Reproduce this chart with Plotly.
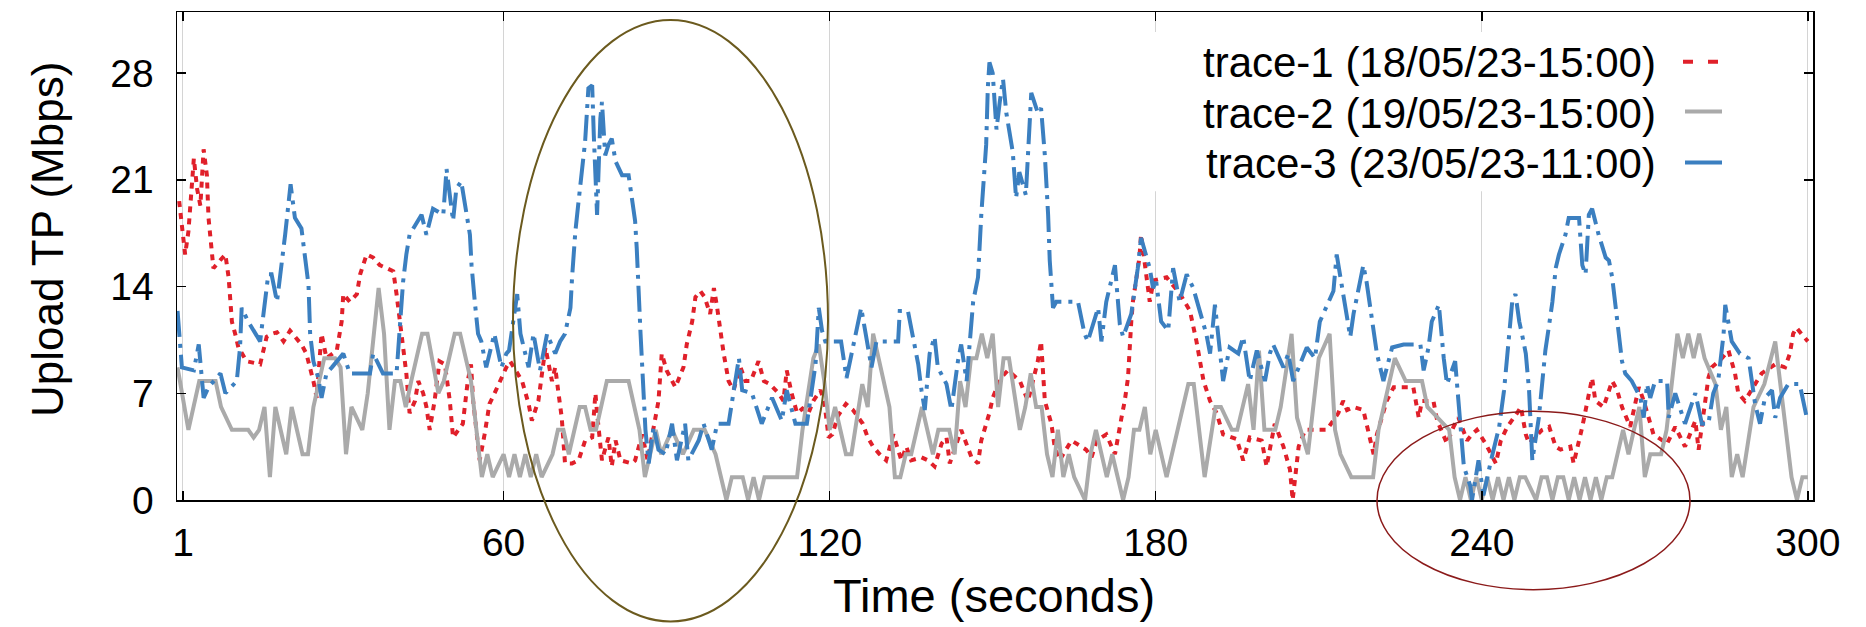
import plotly.graph_objects as go

# ---------------- data ----------------
x_tick_vals = [1, 60, 120, 180, 240, 300]
y_tick_vals = [0, 7, 14, 21, 28]

x_title = "Time (seconds)"
y_title = "Upload TP (Mbps)"
trace1_name = "trace-1 (18/05/23-15:00)"
trace2_name = "trace-2 (19/05/23-15:00)"
trace3_name = "trace-3 (23/05/23-11:00)"

# trace-1 (red, dotted): (time s, Mbps)
trace1_points = [
    (0.3, 19.6), (1.4, 16.1), (2.0, 17.6), (2.3, 19.1), (3.0, 22.4), (3.6, 20.4), (4.2, 19.3), (4.8, 23.0),
    (5.4, 21.3), (5.7, 18.5), (6.2, 16.5), (6.6, 15.2), (7.8, 15.7), (8.8, 16.1), (9.4, 14.6), (10.0, 11.7),
    (10.6, 10.9), (11.2, 10.0), (12.7, 9.1), (15.2, 8.9), (16.4, 10.7), (17.4, 10.9), (18.3, 11.0), (19.5, 10.4),
    (20.7, 11.1), (22.8, 10.2), (23.7, 9.6), (24.4, 8.7), (25.0, 7.8), (25.6, 6.7), (26.5, 10.9), (27.4, 9.3),
    (29.3, 9.8), (30.2, 11.7), (30.5, 13.5), (31.7, 13.0), (33.0, 13.5), (33.6, 14.8), (34.8, 16.1), (36.0, 15.9),
    (37.2, 15.4), (38.5, 15.2), (39.7, 15.0), (40.3, 13.5), (40.9, 11.7), (41.5, 10.2), (42.1, 8.3), (42.7, 5.7),
    (43.7, 6.5), (44.3, 7.8), (45.2, 7.0), (45.8, 6.1), (46.4, 4.6), (47.3, 6.5), (48.2, 9.1), (49.2, 8.9),
    (50.1, 6.5), (50.7, 4.1), (52.5, 5.0), (53.4, 7.8), (54.0, 8.9), (54.4, 6.5), (55.0, 4.3), (55.6, 2.6),
    (56.5, 4.3), (57.4, 6.3), (58.6, 7.2), (59.6, 8.0), (60.5, 8.7), (61.2, 9.1), (63.4, 7.8), (64.6, 6.3),
    (65.2, 5.2), (66.4, 6.5), (67.7, 10.0), (68.9, 7.8), (69.5, 8.7), (70.1, 7.0), (70.7, 5.4), (71.3, 2.4),
    (72.6, 2.4), (73.8, 2.6), (75.0, 3.9), (76.3, 4.1), (76.9, 7.0), (77.2, 5.7), (78.1, 2.6), (79.3, 4.1),
    (79.9, 2.2), (80.6, 3.9), (81.5, 2.6), (83.6, 2.4), (84.2, 2.6), (85.5, 4.3), (86.5, 2.6), (88.5, 6.5),
    (89.1, 9.6), (90.0, 8.5), (91.6, 7.4), (93.1, 8.7), (93.7, 10.2), (94.7, 11.7), (95.3, 13.3), (96.2, 13.7),
    (97.0, 13.3), (98.0, 12.2), (98.7, 13.9), (99.3, 12.6), (99.9, 10.9), (100.5, 9.6), (101.4, 7.8), (102.3, 7.2),
    (103.6, 8.7), (104.5, 7.8), (105.5, 7.8), (106.9, 9.1), (107.9, 7.8), (109.0, 7.6), (110.6, 7.0), (111.5, 6.5),
    (112.1, 8.5), (113.0, 7.0), (114.0, 5.7), (115.0, 6.0), (116.1, 5.7), (117.0, 6.5), (118.3, 7.2), (119.0, 6.5),
    (119.8, 4.1), (120.5, 4.3), (121.5, 5.5), (123.0, 6.3), (124.3, 5.9), (126.1, 5.0), (127.0, 4.1), (128.0, 3.5),
    (129.2, 3.0), (130.4, 2.6), (131.7, 4.3), (133.2, 2.6), (134.1, 3.5), (135.0, 2.6), (136.9, 2.8), (138.1, 2.6),
    (139.3, 2.2), (140.6, 3.7), (141.5, 4.1), (142.1, 2.4), (144.2, 4.6), (146.1, 2.8), (147.3, 2.4), (147.9, 3.9),
    (149.4, 5.7), (150.0, 6.7), (151.5, 8.0), (152.8, 8.5), (155.0, 7.8), (156.5, 6.5), (158.3, 9.1), (158.9, 10.4),
    (159.6, 6.5), (160.8, 5.0), (161.4, 3.5), (162.3, 2.6), (164.5, 3.9), (166.3, 3.5), (167.2, 3.3), (168.2, 2.8),
    (169.1, 3.9), (170.9, 4.3), (172.5, 3.0), (173.7, 5.4), (174.3, 6.5), (174.9, 8.0), (175.2, 10.2), (175.5, 11.7),
    (175.8, 13.0), (176.4, 14.6), (177.0, 15.9), (177.3, 17.4), (178.3, 14.6), (178.9, 13.0), (179.6, 14.4),
    (182.0, 14.6), (184.5, 13.5), (186.3, 12.4), (187.5, 10.4), (188.8, 7.8), (190.0, 6.5), (191.2, 5.7),
    (192.4, 4.3), (194.9, 4.0), (196.1, 2.6), (197.3, 4.1), (199.5, 3.9), (200.4, 2.2), (201.9, 5.0), (203.5, 3.5),
    (204.7, 2.0), (205.2, 0.0), (206.3, 3.5), (207.5, 4.6), (209.0, 4.6), (211.5, 4.6), (213.6, 5.7), (214.5, 6.5),
    (215.2, 5.9), (216.4, 6.1), (218.2, 5.9), (220.1, 3.0), (220.7, 4.3), (222.5, 6.5), (223.8, 7.4), (225.0, 7.4),
    (227.4, 7.4), (228.4, 5.4), (229.0, 6.5), (231.1, 6.5), (231.8, 5.2), (233.6, 3.7), (234.8, 4.8), (235.7, 5.4),
    (237.3, 3.9), (238.2, 4.3), (239.1, 4.6), (240.7, 3.7), (242.6, 2.4), (243.5, 3.9), (244.7, 4.8), (246.5, 5.7),
    (247.2, 6.1), (248.1, 4.3), (248.7, 3.7), (251.1, 4.6), (252.4, 4.8), (253.6, 3.5), (254.5, 3.3), (256.3, 3.5),
    (256.9, 2.4), (258.5, 4.8), (259.1, 5.9), (259.7, 7.2), (260.3, 8.0), (260.9, 6.5), (262.4, 6.1), (264.0, 7.8),
    (264.9, 7.2), (265.8, 6.1), (266.7, 5.4), (267.3, 4.8), (268.9, 7.4), (269.8, 6.5), (271.6, 4.3), (274.1, 3.7),
    (275.6, 4.8), (277.4, 3.5), (278.3, 4.3), (279.3, 5.2), (279.9, 3.3), (281.7, 8.0), (282.3, 8.7), (284.2, 9.3),
    (285.4, 9.8), (286.6, 8.3), (287.2, 7.0), (288.4, 6.5), (291.5, 8.3), (294.0, 8.9), (295.8, 8.7), (296.7, 9.6),
    (297.3, 10.9), (297.9, 11.3), (298.8, 10.9), (300.0, 10.4),
]

# trace-2 (grey, solid): (time s, Mbps)
trace2_points = [
    (0, 8.7), (2, 4.6), (4, 7.8), (7, 7.8), (8, 6.1), (10, 4.6), (13, 4.6), (14, 4.1), (15, 4.6), (16, 6.1),
    (17, 1.5), (18, 6.1), (20, 3.0), (21, 6.1), (23, 3.0), (24, 3.0), (25, 6.1), (27, 9.3), (29, 9.3), (30, 8.7),
    (31, 3.0), (32, 6.1), (34, 4.6), (35, 7.0), (37, 13.9), (38, 10.9), (39, 4.6), (40, 7.8), (41, 7.8), (42, 6.1),
    (43, 7.8), (45, 10.9), (46, 10.9), (48, 7.0), (49, 7.8), (51, 10.9), (52, 10.9), (54, 7.8), (55, 4.6), (56, 1.5),
    (57, 3.0), (58, 1.5), (60, 3.0), (61, 1.5), (62, 3.0), (63, 1.5), (64, 3.0), (65, 1.5), (66, 3.0), (67, 1.5),
    (69, 3.0), (70, 4.6), (71, 4.6), (72, 3.0), (74, 6.1), (75, 6.1), (76, 4.6), (77, 4.6), (79, 7.8), (83, 7.8),
    (85, 4.6), (86, 1.5), (88, 4.6), (89, 3.0), (91, 4.6), (93, 3.0), (95, 4.6), (97, 4.6), (99, 3.0), (100, 1.5),
    (101, 0.0), (102, 1.5), (104, 1.5), (105, 0.0), (106, 1.5), (107, 0.0), (108, 1.5), (114, 1.5), (115, 4.6),
    (117, 9.3), (118, 10.2), (119, 7.8), (120, 4.6), (121, 6.1), (123, 3.0), (124, 3.0), (126, 7.6), (127, 6.1),
    (128, 10.9), (129, 9.3), (131, 6.1), (132, 1.5), (133, 1.5), (134, 3.0), (135, 3.0), (137, 6.1), (139, 3.0),
    (140, 4.6), (142, 4.6), (143, 3.0), (144, 7.8), (145, 6.1), (146, 9.3), (147, 9.3), (148, 10.9), (149, 9.3),
    (150, 10.9), (151, 6.1), (152, 9.3), (153, 9.3), (155, 4.6), (156, 6.1), (157, 8.3), (158, 6.1), (159, 6.1),
    (160, 3.0), (161, 1.5), (162, 4.6), (163, 1.5), (164, 3.0), (165, 1.5), (167, 0.0), (168, 3.0), (169, 4.6),
    (170, 3.0), (171, 1.5), (172, 3.0), (174, 0.0), (175, 1.5), (176, 4.6), (177, 4.6), (178, 6.1), (179, 3.0),
    (180, 4.6), (182, 1.5), (184, 4.6), (186, 7.6), (187, 7.6), (188, 4.6), (189, 1.5), (191, 6.1), (192, 6.1),
    (194, 4.6), (195, 4.6), (197, 7.6), (198, 4.6), (199, 9.8), (200, 4.6), (202, 4.6), (203, 6.1), (205, 10.9),
    (206, 5.4), (208, 3.0), (210, 9.3), (212, 10.9), (213, 4.6), (214, 3.0), (216, 1.5), (220, 1.5), (221, 4.6),
    (224, 9.3), (226, 7.8), (229, 7.8), (230, 6.1), (234, 4.6), (235, 1.5), (236, 0.0), (237, 1.5), (238, 0.0),
    (239, 1.5), (240, 0.0), (241, 1.5), (242, 0.0), (243, 1.5), (244, 0.0), (245, 1.5), (246, 0.0), (247, 1.5),
    (248, 1.5), (250, 0.0), (251, 1.5), (252, 1.5), (253, 0.0), (254, 1.5), (255, 1.5), (256, 0.0), (257, 1.5),
    (258, 0.0), (259, 1.5), (260, 0.0), (261, 1.5), (262, 0.0), (263, 1.5), (264, 1.5), (266, 4.6), (267, 3.0),
    (268, 4.6), (269, 6.1), (270, 1.5), (271, 3.0), (273, 3.0), (274, 4.6), (276, 10.9), (277, 9.3), (278, 10.9),
    (279, 9.3), (280, 10.9), (281, 9.3), (283, 7.6), (284, 4.6), (285, 6.1), (286, 1.5), (287, 3.0), (288, 1.5),
    (290, 6.1), (292, 7.6), (294, 10.4), (295, 7.6), (296, 4.6), (297, 1.5), (298, 0.0), (299, 1.5), (300, 1.5),
]

# trace-3 (blue, dash-dot): (time s, Mbps)
trace3_points = [
    (0.0, 12.4), (0.8, 8.7), (3.0, 8.5), (3.9, 10.2), (4.8, 6.7), (5.7, 7.4), (7.9, 8.3), (8.8, 7.0), (10.9, 7.8),
    (11.5, 10.0), (11.8, 12.6), (13.0, 11.7), (15.2, 10.4), (15.8, 12.2), (16.7, 14.8), (17.3, 14.8), (18.3, 13.0),
    (19.8, 17.4), (20.4, 19.1), (20.8, 20.7), (21.6, 18.5), (22.8, 17.8), (24.1, 14.1), (24.4, 10.9), (25.0, 9.1),
    (25.9, 8.0), (26.5, 6.7), (27.4, 8.3), (28.4, 8.7), (30.5, 9.6), (31.7, 8.3), (35.4, 8.3), (36.0, 9.6),
    (37.8, 8.3), (40.3, 8.3), (41.5, 14.3), (42.1, 16.1), (42.7, 17.4), (44.9, 18.7), (45.8, 17.4), (47.0, 19.1),
    (48.9, 18.7), (49.5, 21.7), (50.7, 18.3), (51.3, 20.4), (52.2, 20.9), (53.8, 17.4), (54.1, 15.4), (54.7, 13.0),
    (55.3, 10.9), (55.9, 10.4), (56.8, 8.7), (58.3, 10.9), (59.6, 8.7), (60.5, 9.6), (61.0, 9.8), (62.5, 13.5),
    (63.1, 10.9), (64.6, 8.7), (65.5, 10.9), (66.7, 8.5), (68.0, 10.9), (69.5, 9.6), (70.4, 10.4), (71.3, 10.9),
    (72.3, 12.6), (72.6, 14.6), (73.2, 17.6), (73.8, 19.6), (74.4, 21.3), (75.0, 23.5), (75.6, 27.0), (76.3, 27.2),
    (76.6, 23.9), (76.9, 20.7), (77.2, 18.7), (77.8, 25.0), (78.1, 26.1), (78.7, 22.6), (79.3, 23.3), (79.9, 23.7),
    (80.6, 22.2), (81.8, 21.3), (83.0, 21.3), (84.2, 18.3), (84.5, 16.5), (85.2, 10.9), (85.5, 9.1), (85.8, 6.5),
    (86.1, 4.6), (86.7, 2.4), (87.6, 4.8), (88.5, 3.3), (89.8, 3.0), (91.0, 5.0), (91.9, 2.6), (93.4, 5.0),
    (94.0, 2.6), (95.9, 3.9), (96.8, 5.0), (98.3, 3.3), (99.3, 5.0), (101.4, 5.0), (102.6, 7.8), (103.3, 9.3),
    (103.9, 7.2), (105.7, 7.0), (107.5, 5.0), (109.4, 6.7), (111.2, 5.2), (112.1, 7.2), (113.7, 5.0), (115.8, 5.0),
    (117.4, 8.9), (118.0, 12.6), (118.6, 11.1), (119.2, 10.4), (120.1, 10.4), (122.1, 10.4), (123.1, 8.0),
    (125.2, 11.5), (125.8, 12.6), (127.7, 8.7), (128.6, 10.4), (132.6, 10.4), (132.9, 12.4), (134.4, 12.4),
    (136.3, 8.9), (136.9, 7.2), (137.5, 5.9), (138.4, 9.6), (139.3, 10.7), (139.9, 8.7), (141.5, 7.6), (142.4, 5.9),
    (143.6, 9.1), (144.2, 10.2), (145.2, 7.8), (146.4, 13.0), (147.3, 14.6), (147.9, 18.7), (148.5, 21.3),
    (148.8, 23.3), (149.1, 27.0), (149.4, 28.7), (150.0, 28.0), (150.7, 24.3), (151.3, 26.1), (151.9, 27.6),
    (152.5, 25.4), (153.1, 23.9), (153.7, 22.8), (154.3, 19.8), (154.9, 21.5), (156.1, 20.0), (156.8, 24.8),
    (157.1, 26.7), (158.3, 25.4), (158.9, 25.7), (159.6, 22.6), (159.9, 20.9), (160.2, 18.7), (160.5, 15.7),
    (161.1, 12.6), (161.7, 13.0), (165.7, 13.0), (166.9, 10.9), (167.5, 10.4), (169.4, 12.6), (170.0, 10.4),
    (170.9, 13.0), (171.5, 13.9), (172.5, 15.4), (173.4, 11.5), (174.0, 10.7), (175.5, 12.2), (176.7, 15.2),
    (177.3, 17.2), (178.9, 15.2), (179.5, 13.9), (180.1, 14.3), (181.0, 11.7), (182.3, 11.1), (183.2, 15.2),
    (184.4, 13.0), (185.7, 14.8), (186.9, 13.9), (189.3, 10.9), (190.0, 9.6), (190.9, 12.8), (191.8, 9.6),
    (192.4, 7.8), (193.6, 10.0), (195.2, 9.6), (196.1, 10.7), (197.3, 7.8), (198.6, 9.8), (200.1, 7.8), (201.0, 9.6),
    (201.6, 10.2), (203.5, 8.7), (204.4, 9.6), (205.3, 7.8), (207.8, 10.0), (209.3, 9.3), (210.2, 11.7),
    (212.7, 13.7), (213.3, 16.1), (214.5, 13.5), (215.8, 10.7), (216.4, 12.2), (217.3, 13.9), (218.2, 15.4),
    (218.8, 14.3), (219.5, 12.4), (220.7, 9.6), (221.9, 7.8), (223.5, 10.0), (225.6, 10.2), (228.7, 10.2),
    (229.3, 8.5), (230.2, 10.0), (230.8, 11.7), (232.1, 12.8), (233.0, 9.3), (233.6, 7.6), (235.1, 9.1), (236.1, 5.0),
    (236.7, 2.2), (237.9, 0.9), (238.2, 0.0), (239.4, 2.6), (240.3, 0.3), (241.7, 2.6), (242.6, 4.1), (243.2, 4.8),
    (244.1, 7.2), (244.7, 9.8), (245.0, 11.1), (245.6, 13.0), (246.2, 13.5), (246.9, 11.7), (247.5, 10.7),
    (248.1, 9.6), (248.7, 7.2), (249.3, 2.6), (250.5, 5.4), (251.1, 7.8), (251.7, 9.8), (252.4, 11.5), (253.0, 13.0),
    (253.6, 15.2), (254.2, 16.1), (255.4, 17.4), (256.0, 18.5), (257.9, 18.5), (258.5, 15.4), (259.1, 14.8),
    (259.7, 18.7), (260.3, 19.1), (261.5, 17.4), (262.8, 15.9), (263.4, 15.7), (264.0, 14.6), (264.6, 12.6),
    (265.2, 10.9), (265.8, 9.1), (266.4, 8.3), (267.6, 7.8), (269.2, 6.7), (269.8, 5.4), (270.4, 7.6), (271.0, 6.7),
    (271.9, 7.8), (274.1, 7.8), (274.4, 5.4), (275.6, 7.0), (277.4, 5.0), (279.3, 7.0), (280.5, 5.0), (281.7, 5.0),
    (282.6, 7.0), (283.5, 7.8), (284.5, 10.9), (284.8, 12.8), (286.0, 10.4), (287.5, 9.6), (289.1, 9.3),
    (290.3, 6.3), (291.2, 5.0), (292.1, 6.7), (293.4, 7.2), (294.0, 5.4), (294.9, 6.7), (296.4, 7.6), (298.5, 7.6),
    (299.1, 6.5), (299.8, 5.4),
]

# ---------------- styling / layout ----------------
RED = "#e0202a"
GREY = "#aaaaaa"
BLUE = "#3b7fc0"
FONT = "Liberation Sans, Arial, Helvetica, sans-serif"

W, H = 1866, 627
L, R, T, B = 177, 53, 10, 127
PW, PH = W - L - R, H - T - B


def px(x):
    return (x - L) / PW


def py(y):
    return (H - B - y) / PH


fig = go.Figure()
series = [
    (trace1_points, trace1_name, RED, "6px,6px"),
    (trace2_points, trace2_name, GREY, "solid"),
    (trace3_points, trace3_name, BLUE, "26px,7px,4px,7px"),
]
for pts, name, col, dash in series:
    fig.add_trace(go.Scatter(
        x=[p[0] for p in pts], y=[p[1] for p in pts], mode="lines", name=name,
        line=dict(color=col, width=4, dash=dash), showlegend=False,
    ))

shapes = [
    # opaque key box (gnuplot style)
    dict(type="rect", xref="paper", yref="paper", x0=px(1150), x1=px(1742), y0=py(190), y1=py(30),
         fillcolor="white", line=dict(width=0), layer="above"),
    # key samples
    dict(type="line", xref="paper", yref="paper", x0=px(1683), x1=px(1719), y0=py(60), y1=py(60),
         line=dict(color=RED, width=4, dash="10px,15px"), layer="above"),
    dict(type="line", xref="paper", yref="paper", x0=px(1685), x1=px(1722), y0=py(110), y1=py(110),
         line=dict(color=GREY, width=4), layer="above"),
    dict(type="line", xref="paper", yref="paper", x0=px(1685), x1=px(1722), y0=py(161), y1=py(161),
         line=dict(color=BLUE, width=4), layer="above"),
    # highlight ellipses
    dict(type="circle", xref="paper", yref="paper", x0=px(513), x1=px(828), y0=py(622), y1=py(18),
         line=dict(color="#6b5a1e", width=2), layer="above"),
    dict(type="circle", xref="paper", yref="paper", x0=px(1377), x1=px(1690), y0=py(590), y1=py(411),
         line=dict(color="#8b1a1a", width=1.5), layer="above"),
]

annotations = []
for name, ycen in [(trace1_name, 61), (trace2_name, 112), (trace3_name, 162)]:
    annotations.append(dict(
        text=name, xref="paper", yref="paper", x=px(1658), y=py(ycen), xanchor="right", yanchor="middle",
        showarrow=False, font=dict(family=FONT, size=42, color="black"),
    ))
# axis titles
annotations.append(dict(
    text=x_title, xref="paper", yref="paper", x=px(994), y=py(596), xanchor="center", yanchor="middle",
    showarrow=False, font=dict(family=FONT, size=47, color="black"),
))
annotations.append(dict(
    text=y_title, xref="paper", yref="paper", x=px(47), y=py(239), xanchor="center", yanchor="middle",
    textangle=-90, showarrow=False, font=dict(family=FONT, size=44, color="black"),
))

fig.update_layout(
    width=W, height=H, autosize=False,
    margin=dict(l=L, r=R, t=T, b=B, pad=0),
    paper_bgcolor="white", plot_bgcolor="white",
    font=dict(family=FONT, color="black"),
    shapes=shapes, annotations=annotations, showlegend=False,
)
fig.update_xaxes(
    range=[-0.1, 300.95], tickvals=x_tick_vals, ticks="inside", ticklen=9, tickwidth=1.5, tickcolor="black",
    showline=True, linecolor="black", linewidth=1.5, mirror="ticks",
    showgrid=True, gridcolor="#d4d4d4", gridwidth=1, zeroline=False,
    tickfont=dict(family=FONT, size=39, color="black"), ticklabelstandoff=8,
)
fig.update_yaxes(
    range=[0, 32], tickvals=y_tick_vals, ticks="inside", ticklen=9, tickwidth=1.5, tickcolor="black",
    showline=True, linecolor="black", linewidth=1.5, mirror="ticks",
    showgrid=False, zeroline=False,
    tickfont=dict(family=FONT, size=39, color="black"), ticklabelstandoff=14,
)

# remove the browser's default page margin so the figure sits at the window origin
fig.write_html(
    "out.html",
    config={"displayModeBar": False, "staticPlot": True},
    post_script="document.body.style.margin='0px';document.body.style.overflow='hidden';",
)
